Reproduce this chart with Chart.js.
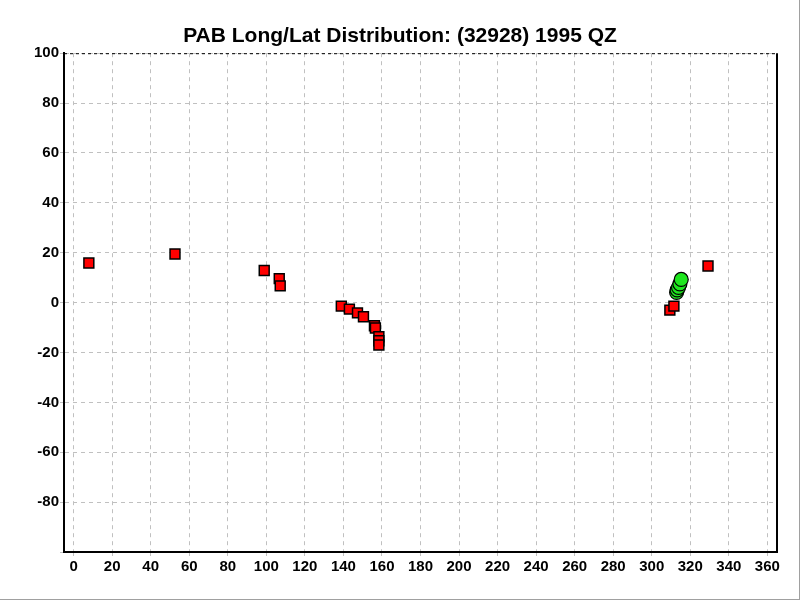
<!DOCTYPE html>
<html>
<head>
<meta charset="utf-8">
<script src="https://cdn.jsdelivr.net/npm/chart.js@4/dist/chart.umd.min.js"></script>
<style>
  html, body { margin: 0; padding: 0; background: #fff; }
  #wrap { width: 800px; height: 600px; }
</style>
</head>
<body>
<div id="wrap"><canvas id="distChart" width="800" height="600"></canvas></div>
<script>
const redLong = [7.9, 52.6, 98.9, 106.7, 107.2, 138.9, 143.1, 147.3, 150.4, 156.1, 156.6, 158.4, 158.4, 158.4, 309.4, 311.5, 329.2];
const redLat  = [15.9, 19.5, 12.9, 9.6, 6.7, -1.4, -2.6, -4.1, -5.7, -9.3, -10.2, -13.7, -15.3, -17.0, -3.0, -1.4, 14.7];

// Green cluster, drawn bottom to top
const greenLong = [312.9, 313.2, 313.9, 314.6, 315.3];
const greenLat  = [4.1, 5.1, 6.1, 7.5, 9.3];

const xTickMin = -5, xTickMax = 365;
const yTickMin = -100, yTickMax = 100;

const toPoints = (xs, ys) => xs.map((x, i) => ({ x: x, y: ys[i] }));

// Frame: dashed top line, solid right line, grey window edge
const framePlugin = {
    id: 'frame',
    afterDraw(chart) {
        const ctx = chart.ctx;
        const a = chart.chartArea;
        ctx.save();
        ctx.strokeStyle = '#000';
        ctx.lineWidth = 1;
        ctx.setLineDash([3, 3]);
        ctx.beginPath();
        ctx.moveTo(a.left, a.top + 0.5);
        ctx.lineTo(a.right, a.top + 0.5);
        ctx.stroke();
        ctx.setLineDash([]);
        ctx.lineWidth = 2;
        ctx.beginPath();
        ctx.moveTo(a.right, a.top);
        ctx.lineTo(a.right, a.bottom);
        ctx.stroke();
        ctx.strokeStyle = '#a0a0a0';
        ctx.lineWidth = 2;
        ctx.beginPath();
        ctx.moveTo(0, 600);
        ctx.lineTo(800, 600);
        ctx.lineTo(800, 0);
        ctx.stroke();
        ctx.restore();
    }
};

const tickFont = { family: '"Liberation Sans", Arial, sans-serif', size: 15, weight: 'bold' };

new Chart(document.getElementById('distChart'), {
    type: 'scatter',
    data: {
        datasets: [
            {
                label: 'Obs',
                data: toPoints(redLong, redLat),
                pointStyle: 'rect',
                pointRadius: 7,
                backgroundColor: '#ff0000',
                borderColor: '#000',
                borderWidth: 1.5
            },
            {
                label: 'PAB',
                data: toPoints(greenLong, greenLat),
                pointStyle: 'circle',
                pointRadius: 7,
                backgroundColor: '#1ee61e',
                borderColor: '#000',
                borderWidth: 1.2
            }
        ]
    },
    options: {
        responsive: false,
        animation: false,
        events: [],
        layout: { padding: 0 },
        plugins: {
            legend: { display: false },
            tooltip: { enabled: false },
            title: {
                display: true,
                text: 'PAB Long/Lat Distribution: (32928) 1995 QZ',
                color: '#000',
                font: { family: '"Liberation Sans", Arial, sans-serif', size: 21, weight: 'bold', lineHeight: 1.2 },
                padding: { top: 24, bottom: 4 }
            }
        },
        scales: {
            x: {
                type: 'linear',
                min: xTickMin,
                max: xTickMax,
                afterFit(scale) { scale.height = 48; },
                ticks: {
                    stepSize: 20,
                    includeBounds: false,
                    autoSkip: false,
                    maxRotation: 0,
                    color: '#000',
                    font: tickFont,
                    padding: 2
                },
                grid: { color: '#c0c0c0', lineWidth: 1, tickLength: 4 },
                border: { display: true, color: '#000', width: 2, dash: [4, 4] }
            },
            y: {
                type: 'linear',
                min: yTickMin,
                max: yTickMax,
                afterFit(scale) { scale.width = 64; },
                ticks: {
                    stepSize: 20,
                    color: '#000',
                    font: tickFont,
                    padding: 1,
                    callback: (v) => (v === yTickMin ? '' : v)
                },
                grid: { color: '#c0c0c0', lineWidth: 1, tickLength: 4 },
                border: { display: true, color: '#000', width: 2, dash: [4, 4] }
            },
            // empty right axis, only reserves the right margin
            yRight: {
                type: 'linear',
                position: 'right',
                min: yTickMin,
                max: yTickMax,
                afterFit(scale) { scale.width = 23; },
                ticks: { display: false },
                grid: { display: false },
                border: { display: false }
            }
        }
    },
    plugins: [framePlugin]
});
</script>
</body>
</html>
